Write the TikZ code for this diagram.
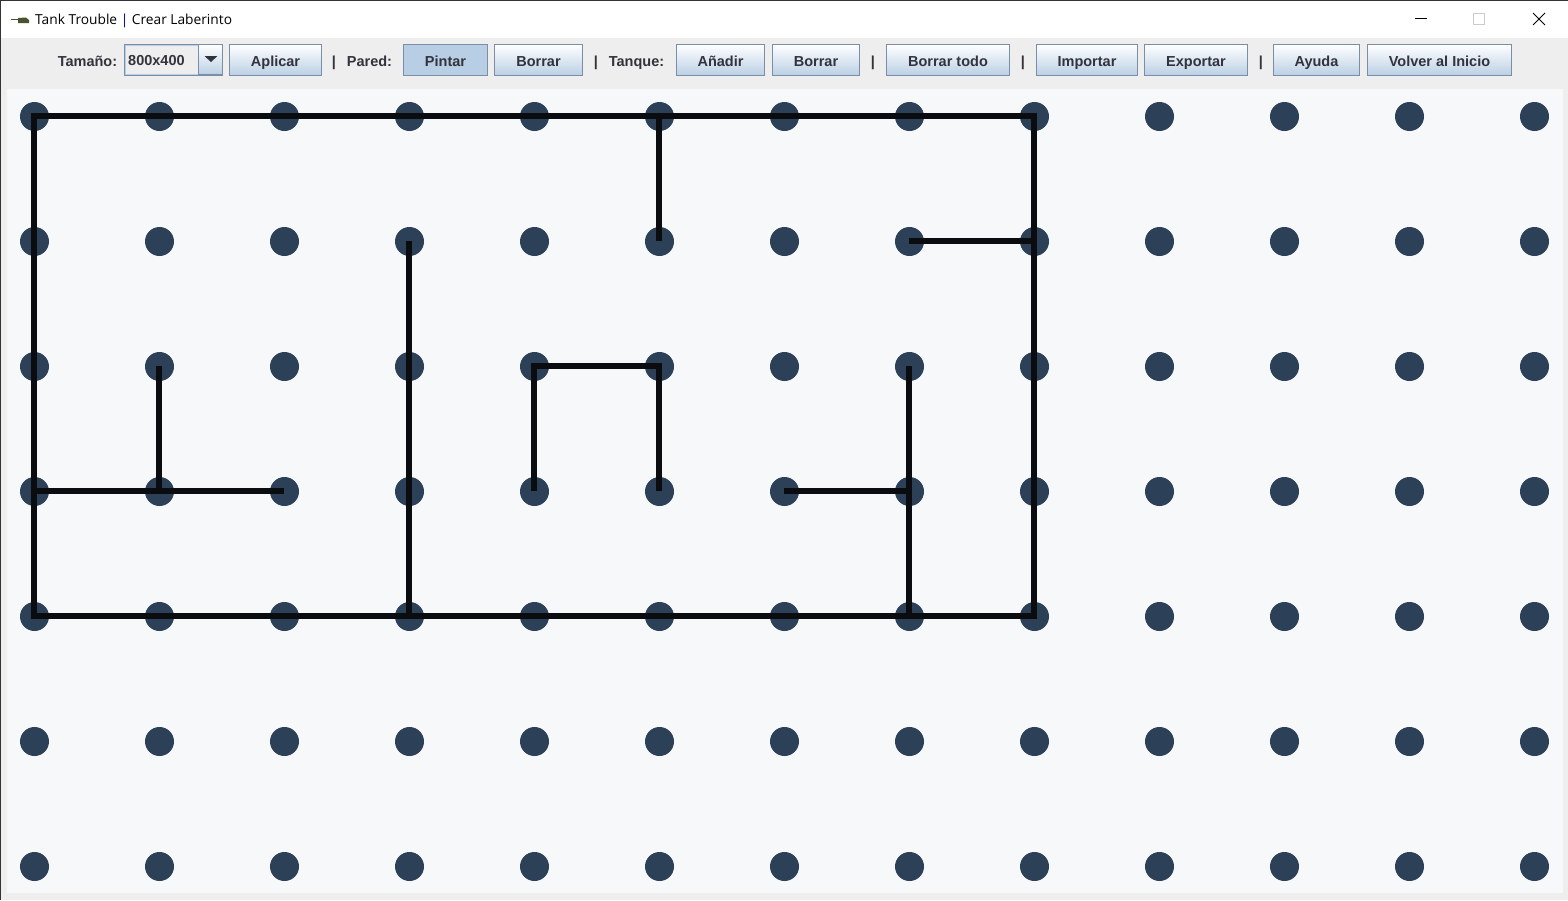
\documentclass[tikz,border=0pt]{standalone}
\usepackage{fontspec}
\setmainfont{Liberation Sans}
\newfontfamily\titlefont{Open Sans}
\usepackage{xcolor}
\definecolor{colbar}{RGB}{238,238,238}
\definecolor{colcanvas}{RGB}{247,248,250}
\definecolor{coldot}{RGB}{44,64,88}
\definecolor{colwall}{RGB}{10,12,16}
\definecolor{coledge}{RGB}{122,142,166}
\definecolor{colbtn}{RGB}{186,207,229}
\definecolor{colon}{RGB}{184,206,228}
\definecolor{coltext}{RGB}{51,51,60}
\definecolor{coltank}{RGB}{72,84,48}
\tikzset{
  btn/.style={draw=coledge, line width=0.9pt, top color=white, bottom color=colbtn,
    minimum height=31pt, inner sep=0pt, text height=13.5pt, text depth=1pt, text=coltext,
    font=\fontsize{14.5}{16}\selectfont\bfseries},
  btnon/.style={btn, top color=colon, bottom color=colon},
  lbl/.style={inner sep=0pt, text height=13.5pt, text depth=1pt, text=coltext,
    font=\fontsize{14.5}{16}\selectfont\bfseries},
  dot/.style={circle, fill=coldot, minimum size=29pt, inner sep=0pt},
  wall/.style={draw=colwall, line width=6pt, line cap=butt, line join=miter,
    transform canvas={xshift=-0.5pt, yshift=0.5pt}}
}
\begin{document}
\begin{tikzpicture}[x=1pt, y=-1pt]
  \useasboundingbox (0,0) rectangle (1568,900);
  % okno
  \fill[colbar] (0,0) rectangle (1568,900);
  \fill[white] (0,0) rectangle (1568,38);
  \fill[colcanvas] (7,89) rectangle (1563,893);
  \fill[black!80] (0,0) rectangle (1568,1);
  \fill[black!80] (0,0) rectangle (1,900);

  % ikona tanka
  \fill[coltank] (11,19) rectangle (20,20);
  \fill[coltank] (18,18) -- (26,17.5) -- (29,20) -- (29,23) -- (18,23) -- cycle;

  % naslov
  \node[anchor=west, inner sep=0pt, text height=13pt, text depth=4pt,
    font=\titlefont\fontsize{13.75}{16}\selectfont] (title) at (35,20)
    {Tank Trouble {\color{blue!60!black}|} Crear Laberinto};
  \draw[black, line width=1pt] (1415,18) -- (1427,18);
  \draw[black!20, line width=1pt] (1473.5,13.5) rectangle (1484.5,24.5);
  \draw[black, line width=0.9pt] (1533,13) -- (1545,25) (1545,13) -- (1533,25);

  % orodna vrstica
  \node[lbl] (lsize) at (87.5,60) {Tamaño:};
  \draw[coledge, line width=0.9pt, fill=colbar] (124.5,44.5) rectangle (222.5,75);
  \draw[colon, line width=0.9pt] (125.5,45.5) rectangle (198,74);
  \node[lbl, anchor=west] (size) at (128,59.5) {800x400};
  \node[btn, minimum width=24pt, minimum height=30pt] (combo) at (210.5,59.7) {};
  \fill[coltext] (204.5,56) -- (217.5,56) -- (211,62) -- cycle;

  \node[btn, minimum width=92pt] (apply) at (275.5,60) {Aplicar};
  \node[lbl] (sep1) at (334,60) {|};
  \node[lbl] (lwall) at (369.5,60) {Pared:};
  \node[btnon, minimum width=84pt] (paint) at (445.5,60) {Pintar};
  \node[btn, minimum width=88pt] (erase) at (538.5,60) {Borrar};
  \node[lbl] (sep2) at (596,60) {|};
  \node[lbl] (ltank) at (636.5,60) {Tanque:};
  \node[btn, minimum width=88pt] (add) at (720.5,60) {Añadir};
  \node[btn, minimum width=87pt] (remove) at (816,60) {Borrar};
  \node[lbl] (sep3) at (873,60) {|};
  \node[btn, minimum width=123pt] (clear) at (948,60) {Borrar todo};
  \node[lbl] (sep4) at (1023,60) {|};
  \node[btn, minimum width=101pt] (import) at (1087,60) {Importar};
  \node[btn, minimum width=103pt] (export) at (1196,60) {Exportar};
  \node[lbl] (sep5) at (1261,60) {|};
  \node[btn, minimum width=86pt] (help) at (1316.5,60) {Ayuda};
  \node[btn, minimum width=144pt] (home) at (1439.5,60) {Volver al Inicio};

  % pike
  \foreach \i in {0,...,12}
    \foreach \j in {0,...,6}
      \node[dot] (d\i-\j) at ({34.5+125*\i},{116.5+125*\j}) {};

  % stene
  \draw[wall] (d0-0.center) -- (d8-0.center) -- (d8-4.center) -- (d0-4.center) -- cycle;
  \draw[wall] (d5-0.center) -- (d5-1.center);
  \draw[wall] (d7-1.center) -- (d8-1.center);
  \draw[wall] (d3-1.center) -- (d3-4.center);
  \draw[wall] (d1-2.center) -- (d1-3.center);
  \draw[wall] (d0-3.center) -- (d2-3.center);
  \draw[wall] (d4-3.center) -- (d4-2.center) -- (d5-2.center) -- (d5-3.center);
  \draw[wall] (d6-3.center) -- (d7-3.center);
  \draw[wall] (d7-2.center) -- (d7-4.center);
\end{tikzpicture}
\end{document}
